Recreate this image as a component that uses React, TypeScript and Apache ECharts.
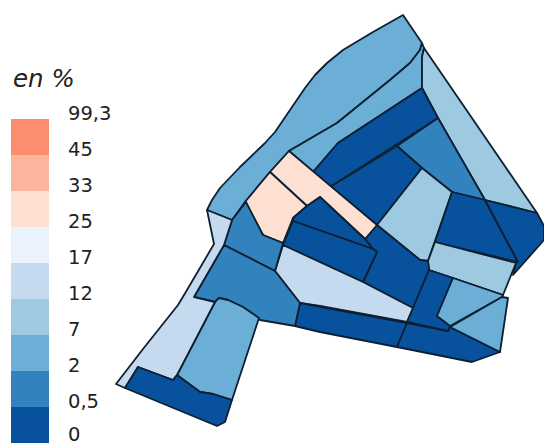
import React, { useEffect, useRef } from "react";
import * as echarts from "echarts";

const legendTicks = ["99,3", "45", "33", "25", "17", "12", "7", "2", "0,5", "0"];
const classBreaks = [99.3, 45, 33, 25, 17, 12, 7, 2, 0.5, 0];
const classColors = ["#FC8D6E", "#FDB49C", "#FEE0D3", "#EDF3FC", "#C6DAEF", "#9ECAE1", "#6BAED6", "#3182BD", "#08519C"];

const zoneNames = ["A", "B", "C", "D", "E", "F", "G", "H", "I", "J", "K", "L", "M", "N", "O", "P", "Q", "R", "S", "T", "U", "V", "W", "X", "Y", "Z"];
const zoneValues = [4, 4, 9, 0.2, 1, 0.2, 9, 0.2, 0.2, 9, 0.2, 28, 28, 0.2, 0.2, 14, 0.2, 0.2, 0.2, 4, 4, 1, 1, 4, 14, 0.2];
const zoneRings: number[][][] = [
  [[403,15],[422,43],[420,50],[410,63],[390,80],[337,123],[289,151],[270,172],[245,202],[232,220],[207,210],[212,200],[220,188],[240,167],[265,143],[275,132],[290,110],[305,88],[315,75],[327,63],[343,50],[373,32]],
  [[289,151],[337,123],[390,80],[410,63],[420,50],[422,43],[424,48],[422,57],[422,88],[338,143],[313,172]],
  [[424,48],[537,213],[485,200],[438,118],[422,88],[422,57]],
  [[422,88],[438,118],[330,187],[313,172],[338,143]],
  [[438,118],[485,200],[452,192],[422,168],[397,146]],
  [[397,146],[422,168],[377,225],[330,187]],
  [[422,168],[452,192],[428,261],[420,260],[377,225]],
  [[452,192],[485,200],[518,262],[435,242]],
  [[485,200],[537,213],[544,226],[544,240],[513,275],[516,263],[518,262]],
  [[435,242],[516,263],[503,295],[453,278],[429,270],[428,261]],
  [[377,225],[420,260],[428,261],[429,270],[413,308],[363,282],[377,252],[373,249],[365,239]],
  [[289,151],[377,225],[365,239],[320,197],[307,206],[270,172]],
  [[245,202],[270,172],[307,206],[293,218],[283,243],[263,235]],
  [[320,197],[365,239],[373,249],[293,221],[293,218],[307,206]],
  [[293,221],[373,249],[377,252],[363,282],[283,245]],
  [[283,245],[363,282],[413,308],[407,322],[320,306],[300,303],[275,271]],
  [[300,303],[407,323],[397,347],[320,332],[295,326]],
  [[407,323],[448,331],[450,327],[500,352],[472,362],[397,347]],
  [[429,270],[453,278],[437,316],[450,326],[448,331],[407,322],[413,308]],
  [[453,278],[503,295],[502,297],[450,326],[437,316]],
  [[502,297],[508,298],[500,352],[450,327]],
  [[246,202],[263,235],[283,243],[275,271],[224,245],[232,220]],
  [[224,245],[275,271],[300,303],[295,326],[260,320],[243,307],[228,300],[219,298],[215,302],[194,297]],
  [[219,298],[228,300],[243,307],[259,318],[232,400],[213,394],[200,392],[177,375],[215,302]],
  [[207,210],[232,220],[224,245],[194,297],[215,302],[177,375],[173,380],[138,367],[125,388],[116,384],[143,349],[178,305],[187,290],[214,244]],
  [[138,367],[173,380],[177,375],[200,392],[213,394],[232,400],[225,422],[217,426],[125,388]],
];

const FONT = "'DejaVu Sans'";

export default function App() {
  const ref = useRef<HTMLDivElement>(null);
  useEffect(() => {
    document.body.style.margin = "0";
    const geoJson = {
      type: "FeatureCollection",
      features: zoneNames.map((name, i) => ({
        type: "Feature",
        properties: { name },
        geometry: { type: "Polygon", coordinates: [zoneRings[i]] },
      })),
    };
    echarts.registerMap("zones", geoJson as any);
    const chart = echarts.init(ref.current!, undefined, { renderer: "svg" });
    const swatches = classColors.map((fill, i) => ({
      type: "rect",
      shape: { x: 11, y: 119 + i * 36, width: 38, height: 36 },
      style: { fill },
      silent: true,
    }));
    const labels = legendTicks.map((text, i) => ({
      type: "text",
      x: 68,
      y: (i === 9 ? 110 : 113) + i * 36,
      style: { text, fill: "#222", font: `19.5px ${FONT}`, textAlign: "left", textVerticalAlign: "middle" },
      silent: true,
    }));
    chart.setOption({
      animation: false,
      backgroundColor: "#fff",
      tooltip: { show: false },
      visualMap: {
        show: false,
        type: "piecewise",
        seriesIndex: 0,
        pieces: classColors.map((color, i) => ({ gte: classBreaks[i + 1], lt: classBreaks[i], color })),
      },
      series: [
        {
          type: "map",
          map: "zones",
          projection: { project: (p: number[]) => p, unproject: (p: number[]) => p },
          boundingCoords: [[0, 0], [544, 444]],
          left: 0,
          top: 0,
          width: 544,
          height: 444,
          roam: false,
          silent: true,
          selectedMode: false,
          label: { show: false },
          itemStyle: { borderColor: "#0d2033", borderWidth: 1.8, borderJoin: "round" },
          emphasis: { disabled: true },
          data: zoneNames.map((name, i) => ({ name, value: zoneValues[i] })),
        },
      ],
      graphic: [
        {
          type: "text",
          x: 13,
          y: 78,
          style: { text: "en %", fill: "#222", font: `italic 24.5px ${FONT}`, textAlign: "left", textVerticalAlign: "middle" },
          silent: true,
        },
        ...swatches,
        ...labels,
      ],
    });
    return () => chart.dispose();
  }, []);
  return <div ref={ref} style={{ width: 544, height: 444 }} />;
}
